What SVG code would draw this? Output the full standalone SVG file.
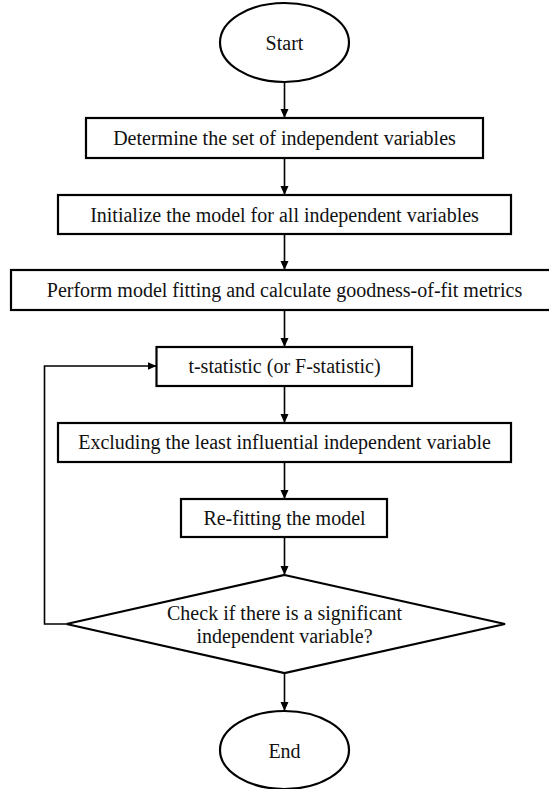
<svg xmlns="http://www.w3.org/2000/svg" width="549" height="789" viewBox="0 0 549 789">
<style>
.n{fill:#fff;stroke:#000;stroke-width:2.2}
.t{font-family:"Liberation Serif","Times New Roman",serif;font-size:20px;fill:#111;text-anchor:middle;dominant-baseline:central}
.c{fill:none;stroke:#000;stroke-width:1.6}
</style>
<defs>
<marker id="a" markerWidth="10" markerHeight="10" refX="9" refY="5" orient="auto" markerUnits="userSpaceOnUse">
<path d="M0,1 L9,5 L0,9 Z" fill="#000"/>
</marker>
</defs>
<rect width="549" height="789" fill="#fff"/>
<g id="connectors">
<line class="c" x1="284.5" y1="82" x2="284.5" y2="118" marker-end="url(#a)"/>
<line class="c" x1="284.5" y1="158" x2="284.5" y2="195" marker-end="url(#a)"/>
<line class="c" x1="284.5" y1="234" x2="284.5" y2="270" marker-end="url(#a)"/>
<line class="c" x1="284.5" y1="310" x2="284.5" y2="347" marker-end="url(#a)"/>
<line class="c" x1="284.5" y1="386" x2="284.5" y2="423" marker-end="url(#a)"/>
<line class="c" x1="284.5" y1="462" x2="284.5" y2="499" marker-end="url(#a)"/>
<line class="c" x1="284.5" y1="537" x2="284.5" y2="575" marker-end="url(#a)"/>
<line class="c" x1="284.5" y1="673" x2="284.5" y2="711" marker-end="url(#a)"/>
<polyline class="c" points="66.5,624 44.5,624 44.5,366 156.5,366" marker-end="url(#a)"/>
</g>
<g id="start">
<ellipse class="n" cx="284.5" cy="42.5" rx="64.5" ry="39.5"/>
<text class="t" x="284.5" y="43">Start</text>
</g>
<g id="determine">
<rect class="n" x="86" y="118" width="397" height="40"/>
<text class="t" x="284.5" y="138">Determine the set of independent variables</text>
</g>
<g id="initialize">
<rect class="n" x="58" y="195" width="453" height="39"/>
<text class="t" x="284.5" y="215">Initialize the model for all independent variables</text>
</g>
<g id="perform">
<rect class="n" x="11" y="270" width="545" height="40"/>
<text class="t" x="284.5" y="290">Perform model fitting and calculate goodness-of-fit metrics</text>
</g>
<g id="tstat">
<rect class="n" x="156.5" y="347" width="255.5" height="39"/>
<text class="t" x="284.5" y="366">t-statistic (or F-statistic)</text>
</g>
<g id="exclude">
<rect class="n" x="58" y="423" width="453" height="39"/>
<text class="t" x="284.5" y="442">Excluding the least influential independent variable</text>
</g>
<g id="refit">
<rect class="n" x="181" y="499" width="206" height="38"/>
<text class="t" x="284.5" y="518">Re-fitting the model</text>
</g>
<g id="check">
<polygon class="n" points="284.5,575 505,624 284.5,673 66.5,624"/>
<text class="t" x="284.5" y="613">Check if there is a significant</text>
<text class="t" x="284.5" y="636">independent variable?</text>
</g>
<g id="end">
<ellipse class="n" cx="284.5" cy="750" rx="64.5" ry="39"/>
<text class="t" x="284.5" y="751">End</text>
</g>
</svg>
